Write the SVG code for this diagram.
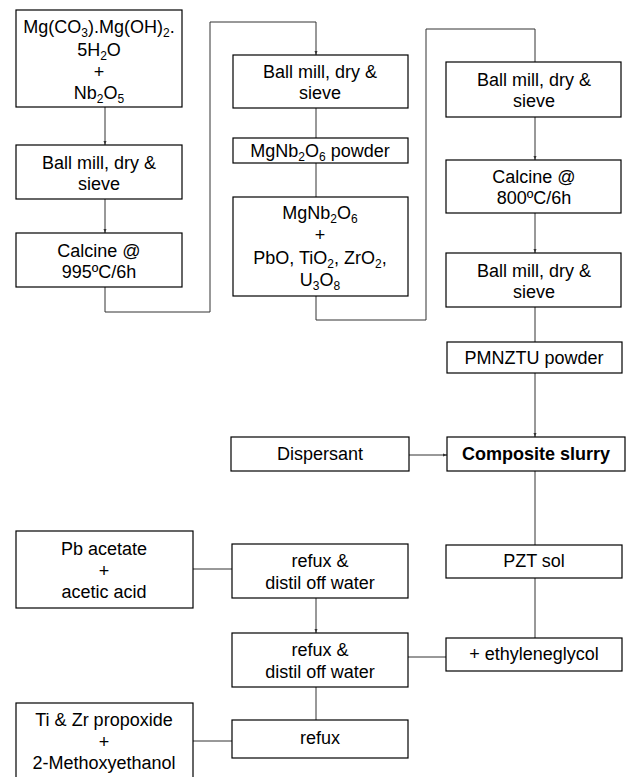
<svg xmlns="http://www.w3.org/2000/svg" width="627" height="777" viewBox="0 0 627 777">
<defs>
<style>
.box{fill:#fff;stroke:#000;stroke-width:1.2}
.t{font-family:"Liberation Sans",Arial,sans-serif;font-size:18px;fill:#000;text-anchor:middle}
.b{font-weight:bold}
.s{font-size:12px}
.c{fill:none;stroke:#333;stroke-width:1}
</style>
<marker id="ah" markerWidth="4" markerHeight="4" refX="4" refY="2" orient="auto" markerUnits="userSpaceOnUse">
<path d="M0,0.5 L4,2 L0,3.5 z" fill="#333"/>
</marker>
</defs>
<rect width="627" height="777" fill="#fff"/>
<g id="connectors">
<path class="c" d="M105,107 V145" marker-end="url(#ah)"/>
<path class="c" d="M105,199 V233" marker-end="url(#ah)"/>
<path class="c" d="M105,287 V312 H210 V22 H316 V55" marker-end="url(#ah)"/>
<path class="c" d="M316,108 V138"/>
<path class="c" d="M316,163 V197"/>
<path class="c" d="M316,296 V320 H426 V29 H535 V62"/>
<path class="c" d="M535,117 V160" marker-end="url(#ah)"/>
<path class="c" d="M535,213 V253" marker-end="url(#ah)"/>
<path class="c" d="M535,307 V342"/>
<path class="c" d="M535,373 V437" marker-end="url(#ah)"/>
<path class="c" d="M409,455 H447" marker-end="url(#ah)"/>
<path class="c" d="M535,545 V471"/>
<path class="c" d="M535,638 V578"/>
<path class="c" d="M408,657 H446"/>
<path class="c" d="M193,569 H232"/>
<path class="c" d="M316,598 V633" marker-end="url(#ah)"/>
<path class="c" d="M316,720 V687"/>
<path class="c" d="M193,741 H232"/>
</g>
<g id="n1"><rect class="box" x="16" y="10" width="166" height="97"/>
<text class="t" x="99" y="33">Mg(CO<tspan class="s" dy="4">3</tspan><tspan dy="-4">).Mg(OH)</tspan><tspan class="s" dy="4">2</tspan><tspan dy="-4">.</tspan></text>
<text class="t" x="99" y="56">5H<tspan class="s" dy="4">2</tspan><tspan dy="-4">O</tspan></text>
<text class="t" x="99" y="78">+</text>
<text class="t" x="99" y="99">Nb<tspan class="s" dy="4">2</tspan><tspan dy="-4">O</tspan><tspan class="s" dy="4">5</tspan></text></g>
<g id="n2"><rect class="box" x="16" y="145" width="166" height="54"/>
<text class="t" x="99" y="169">Ball mill, dry &amp;</text><text class="t" x="99" y="190">sieve</text></g>
<g id="n3"><rect class="box" x="16" y="233" width="166" height="54"/>
<text class="t" x="99" y="257">Calcine @</text><text class="t" x="99" y="278">995ºC/6h</text></g>
<g id="m1"><rect class="box" x="233" y="55" width="175" height="53"/>
<text class="t" x="320" y="78">Ball mill, dry &amp;</text><text class="t" x="320" y="99">sieve</text></g>
<g id="m2"><rect class="box" x="233" y="138" width="175" height="25"/>
<text class="t" x="320" y="157">MgNb<tspan class="s" dy="4">2</tspan><tspan dy="-4">O</tspan><tspan class="s" dy="4">6</tspan><tspan dy="-4"> powder</tspan></text></g>
<g id="m3"><rect class="box" x="233" y="197" width="175" height="99"/>
<text class="t" x="320" y="219">MgNb<tspan class="s" dy="4">2</tspan><tspan dy="-4">O</tspan><tspan class="s" dy="4">6</tspan></text>
<text class="t" x="320" y="241">+</text>
<text class="t" x="320" y="264">PbO, TiO<tspan class="s" dy="4">2</tspan><tspan dy="-4">, ZrO</tspan><tspan class="s" dy="4">2</tspan><tspan dy="-4">,</tspan></text>
<text class="t" x="320" y="286">U<tspan class="s" dy="4">3</tspan><tspan dy="-4">O</tspan><tspan class="s" dy="4">8</tspan></text></g>
<g id="r1"><rect class="box" x="446" y="62" width="175" height="55"/>
<text class="t" x="534" y="86">Ball mill, dry &amp;</text><text class="t" x="534" y="107">sieve</text></g>
<g id="r2"><rect class="box" x="446" y="160" width="175" height="53"/>
<text class="t" x="534" y="183">Calcine @</text><text class="t" x="534" y="204">800ºC/6h</text></g>
<g id="r3"><rect class="box" x="446" y="253" width="175" height="54"/>
<text class="t" x="534" y="277">Ball mill, dry &amp;</text><text class="t" x="534" y="298">sieve</text></g>
<g id="r4"><rect class="box" x="447" y="342" width="175" height="31"/>
<text class="t" x="534" y="364">PMNZTU powder</text></g>
<g id="r5"><rect class="box" x="447" y="437" width="178" height="34"/>
<text class="t b" x="536" y="460">Composite slurry</text></g>
<g id="d1"><rect class="box" x="231" y="437" width="178" height="34"/>
<text class="t" x="320" y="460">Dispersant</text></g>
<g id="r6"><rect class="box" x="446" y="545" width="176" height="33"/>
<text class="t" x="534" y="567">PZT sol</text></g>
<g id="r7"><rect class="box" x="446" y="638" width="176" height="33"/>
<text class="t" x="534" y="660">+ ethyleneglycol</text></g>
<g id="b1"><rect class="box" x="16" y="531" width="177" height="77"/>
<text class="t" x="104" y="555">Pb acetate</text><text class="t" x="104" y="577">+</text><text class="t" x="104" y="598">acetic acid</text></g>
<g id="b2"><rect class="box" x="232" y="544" width="176" height="54"/>
<text class="t" x="320" y="567">refux &amp;</text><text class="t" x="320" y="589">distil off water</text></g>
<g id="b3"><rect class="box" x="232" y="633" width="176" height="54"/>
<text class="t" x="320" y="656">refux &amp;</text><text class="t" x="320" y="678">distil off water</text></g>
<g id="b4"><rect class="box" x="232" y="720" width="176" height="38"/>
<text class="t" x="320" y="744">refux</text></g>
<g id="b5"><rect class="box" x="16" y="703" width="177" height="85"/>
<text class="t" x="104" y="726">Ti &amp; Zr propoxide</text><text class="t" x="104" y="748">+</text><text class="t" x="104" y="769">2-Methoxyethanol</text></g>
</svg>
